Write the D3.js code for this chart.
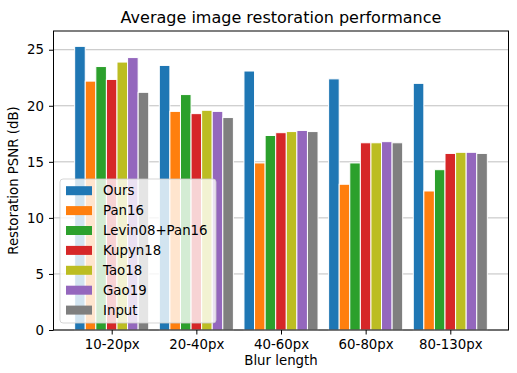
<!DOCTYPE html>
<html>
<head>
<meta charset="utf-8">
<script src="https://cdn.jsdelivr.net/npm/d3@7"></script>
<style>
  body { margin: 0; background: #fff; }
  text { font-family: "DejaVu Sans", sans-serif; fill: #000; }
</style>
</head>
<body>
<svg id="chart" width="517" height="373" viewBox="0 0 517 373"></svg>
<script>
// Data
const categories = ["10-20px", "20-40px", "40-60px", "60-80px", "80-130px"];
const methods = ["Ours", "Pan16", "Levin08+Pan16", "Kupyn18", "Tao18", "Gao19", "Input"];
const colors = ["#1f77b4", "#ff7f0e", "#2ca02c", "#d62728", "#bcbd22", "#9467bd", "#7f7f7f"];
const ours = [25.3, 23.6, 23.1, 22.4, 22.0];
const pan16 = [22.2, 19.5, 14.9, 13.0, 12.4];
const levinPan = [23.5, 21.0, 17.35, 14.9, 14.3];
const kupyn18 = [22.35, 19.3, 17.6, 16.7, 15.75];
const tao18 = [23.9, 19.6, 17.7, 16.7, 15.85];
const gao19 = [24.3, 19.5, 17.8, 16.8, 15.85];
const input = [21.2, 18.95, 17.7, 16.7, 15.75];
const series = [ours, pan16, levinPan, kupyn18, tao18, gao19, input];
const yTicks = [0, 5, 10, 15, 20, 25];

const svg = d3.select("#chart");
const margin = { left: 53.5, right: 508.5, top: 31, bottom: 330 };
const barWidth = 0.125;
const fontSize = 13.33;

const x = d3.scaleLinear()
    .domain([-0.6875, 4.6875])
    .range([margin.left, margin.right]);
const y = d3.scaleLinear()
    .domain([0, 26.67])
    .range([margin.bottom, margin.top]);

// Grid lines (behind bars)
svg.append("g")
    .selectAll("line")
    .data(yTicks)
    .enter()
    .append("line")
    .attr("x1", margin.left)
    .attr("x2", margin.right)
    .attr("y1", d => y(d))
    .attr("y2", d => y(d))
    .attr("stroke", "#bfbfbf")
    .attr("stroke-width", 1);

// Bars
const bars = [];
series.forEach((vals, m) => {
    vals.forEach((v, i) => bars.push({ m: m, i: i, v: v }));
});
svg.append("g")
    .selectAll("rect")
    .data(bars)
    .enter()
    .append("rect")
    .attr("x", d => x(d.i + (d.m - 3) * barWidth - barWidth / 2))
    .attr("width", d => x(barWidth) - x(0))
    .attr("y", d => y(d.v))
    .attr("height", d => y(0) - y(d.v))
    .attr("fill", d => colors[d.m])
    .attr("stroke", "#fff")
    .attr("stroke-width", 1);

// Axes
svg.append("g")
    .attr("transform", `translate(0,${margin.bottom})`)
    .call(d3.axisBottom(x).tickValues(d3.range(categories.length))
        .tickFormat(i => categories[i]).tickSize(4.5).tickPadding(5))
    .call(g => g.select(".domain").remove())
    .call(g => g.selectAll("text").attr("font-size", fontSize).attr("font-family", "DejaVu Sans"));

svg.append("g")
    .attr("transform", `translate(${margin.left},0)`)
    .call(d3.axisLeft(y).tickValues(yTicks).tickSize(4.5).tickPadding(5))
    .call(g => g.select(".domain").remove())
    .call(g => g.selectAll("text").attr("font-size", fontSize).attr("font-family", "DejaVu Sans"));

// Frame
svg.append("rect")
    .attr("x", margin.left)
    .attr("y", margin.top)
    .attr("width", margin.right - margin.left)
    .attr("height", margin.bottom - margin.top)
    .attr("fill", "none")
    .attr("stroke", "#000")
    .attr("stroke-width", 1);

// Titles
svg.append("text")
    .attr("x", (margin.left + margin.right) / 2)
    .attr("y", 23)
    .attr("text-anchor", "middle")
    .attr("font-size", 16)
    .text("Average image restoration performance");

svg.append("text")
    .attr("x", (margin.left + margin.right) / 2)
    .attr("y", 365)
    .attr("text-anchor", "middle")
    .attr("font-size", fontSize)
    .text("Blur length");

svg.append("text")
    .attr("transform", `translate(18,${(margin.top + margin.bottom) / 2}) rotate(-90)`)
    .attr("text-anchor", "middle")
    .attr("font-size", fontSize)
    .text("Restoration PSNR (dB)");

// Legend
const legend = svg.append("g").attr("transform", "translate(60,179)");
legend.append("rect")
    .attr("width", 156)
    .attr("height", 144)
    .attr("rx", 3)
    .attr("fill", "#fff")
    .attr("fill-opacity", 0.8)
    .attr("stroke", "#cccccc")
    .attr("stroke-opacity", 0.8);

const items = legend.selectAll(".legend-item")
    .data(methods)
    .enter()
    .append("g")
    .attr("class", "legend-item")
    .attr("transform", (d, i) => `translate(0,${11.7 + i * 19.9})`);
items.append("rect")
    .attr("x", 6)
    .attr("y", -4.5)
    .attr("width", 26)
    .attr("height", 9)
    .attr("fill", (d, i) => colors[i]);
items.append("text")
    .attr("x", 43)
    .attr("dy", "0.35em")
    .attr("font-size", fontSize)
    .text(d => d);
</script>
</body>
</html>
